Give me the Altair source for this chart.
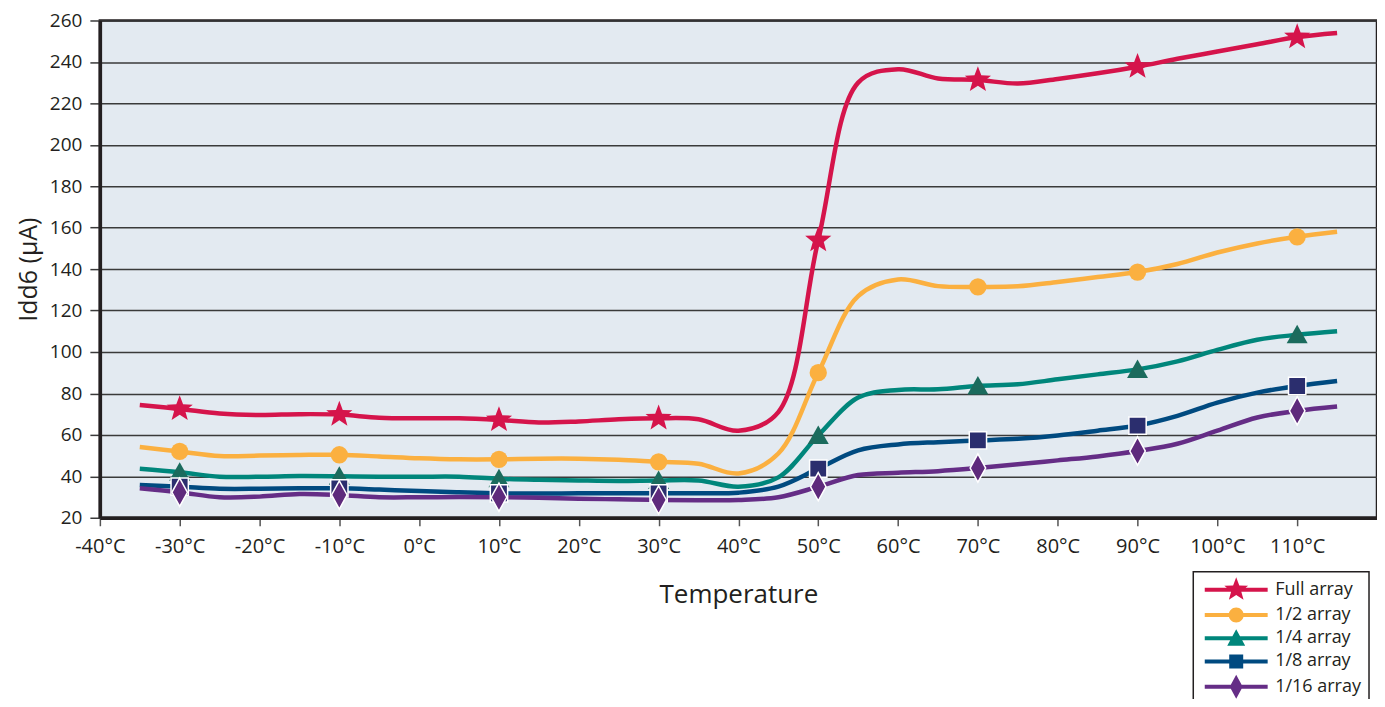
import altair as alt
import pandas as pd

temps = list(range(-35, 120, 5))

full_array = [74.4, 72.5, 70.3, 69.6, 70.0, 69.8, 68.3, 68.0, 68.0, 67.2, 66.0, 66.5, 67.5, 68.0, 67.5,
              62.0, 71.0, 154.0, 230.0, 236.5, 232.0, 231.3, 229.6, 231.8, 234.5, 237.7, 241.5, 245.0,
              248.5, 252.0, 254.0]
half_array = [54.1, 52.0, 49.8, 50.0, 50.3, 50.4, 49.6, 48.7, 48.2, 48.2, 48.5, 48.5, 48.0, 47.0, 46.1,
              41.4, 51.0, 90.0, 127.0, 135.0, 131.8, 131.4, 131.7, 133.8, 136.2, 138.6, 142.5, 148.0,
              152.4, 155.6, 158.0]
quarter_array = [43.7, 42.0, 39.8, 39.8, 40.1, 40.0, 39.8, 39.8, 39.8, 38.8, 38.3, 38.0, 37.8, 38.0, 38.0,
                 35.0, 39.5, 59.7, 78.0, 81.7, 82.0, 83.6, 84.4, 86.8, 89.2, 91.6, 95.5, 101.0,
                 105.9, 108.3, 110.0]
eighth_array = [35.8, 35.0, 34.0, 34.0, 34.2, 34.2, 33.6, 32.9, 32.3, 31.8, 31.7, 31.8, 31.8, 31.8, 31.8,
                32.1, 35.0, 43.7, 52.5, 55.4, 56.5, 57.3, 58.1, 59.7, 62.0, 64.5, 69.2, 75.6,
                80.4, 83.6, 86.0]
sixteenth_array = [34.2, 32.3, 29.9, 30.2, 31.5, 31.0, 29.9, 29.9, 30.0, 29.9, 29.6, 29.2, 28.9, 28.6, 28.5,
                   28.6, 29.9, 35.0, 40.6, 41.7, 42.5, 44.0, 45.8, 47.7, 49.6, 52.2, 55.7, 62.0,
                   68.4, 71.6, 73.7]

marker_temps = [-30, -10, 10, 30, 50, 70, 90, 110]
series_names = ["Full array", "1/2 array", "1/4 array", "1/8 array", "1/16 array"]
series_values = [full_array, half_array, quarter_array, eighth_array, sixteenth_array]
line_colors = ["#d5144b", "#fbb040", "#00867b", "#004a80", "#652d86"]
marker_colors = ["#d5144b", "#fbb040", "#1b6b5d", "#2b2e6e", "#5e2a7c"]
x_ticks = list(range(-40, 111, 10))
y_ticks = list(range(20, 261, 20))

FONT = "Open Sans"
TXT = "#231f20"

rows = []
for name, vals in zip(series_names, series_values):
    for t, v in zip(temps, vals):
        rows.append({"temp": t, "value": v, "series": name, "marker": t in marker_temps})
df = pd.DataFrame(rows)

# marker shapes (unit coordinates, scaled by sqrt(size)/2)
star = ("M0,-1 L0.247,-0.34 L0.951,-0.309 L0.399,0.13 L0.588,0.809 L0,0.42 "
        "L-0.588,0.809 L-0.399,0.13 L-0.951,-0.309 L-0.247,-0.34 Z")
tri = "M0,-1 L1.05,0.85 L-1.05,0.85 Z"
diamond = "M0,-1 L0.55,0 L0,1 L-0.55,0 Z"
marker_shapes = [star, "circle", tri, "square", diamond]
marker_sizes = [760, 300, 400, 300, 800]
marker_strokes = [None, None, None, "white", "white"]

# legend symbols: a line segment with the marker in its middle (size 400 -> 10 px per unit)
bar = "M-3.15,-0.2 H3.15 V0.2 H-3.15 Z "
legend_paths = [
    bar + "M0,-1.25 L0.309,-0.425 L1.189,-0.386 L0.499,0.163 L0.735,1.011 L0,0.525 "
          "L-0.735,1.011 L-0.499,0.163 L-1.189,-0.386 L-0.309,-0.425 Z",
    bar + "M0.75,0 A0.75,0.75 0 1,1 -0.75,0 A0.75,0.75 0 1,1 0.75,0 Z",
    bar + "M0,-0.9 L0.9,0.75 L-0.9,0.75 Z",
    bar + "M-0.7,-0.7 H0.7 V0.7 H-0.7 Z",
    bar + "M0,-1.2 L0.65,0 L0,1.2 L-0.65,0 Z",
]

x_enc = alt.X("temp:Q",
              scale=alt.Scale(domain=[-40, 120], nice=False, zero=False),
              axis=alt.Axis(values=x_ticks, labelExpr="datum.value + '°C'", title="Temperature",
                            grid=False, tickSize=8, labelPadding=11, titlePadding=25,
                            domainWidth=3.5, domainColor=TXT, tickColor="#555555", tickWidth=1.5,
                            labelFontSize=20, titleFontSize=26, labelFlush=False))
y_enc = alt.Y("value:Q",
              scale=alt.Scale(domain=[20, 260], nice=False, zero=False),
              axis=alt.Axis(values=y_ticks, title="Idd6 (μA)", grid=True, gridColor="#3a3a3a",
                            gridWidth=1.5, tickSize=10, tickColor="#3a3a3a", tickWidth=1.5,
                            labelPadding=8, titlePadding=8, domainWidth=3.5, domainColor=TXT,
                            labelFontSize=19, titleFontSize=25))

layers = []
for name, col in zip(series_names, line_colors):
    layers.append(
        alt.Chart(df).transform_filter(alt.datum.series == name)
        .mark_line(interpolate="catmull-rom", color=col, strokeWidth=4.5)
        .encode(x=x_enc, y=y_enc)
    )
for name, col, shp, sz, stk in zip(series_names, marker_colors, marker_shapes, marker_sizes, marker_strokes):
    kw = dict(shape=shp, filled=True, color=col, size=sz, opacity=1)
    if stk:
        kw.update(stroke=stk, strokeWidth=1.5)
    else:
        kw.update(strokeWidth=0)
    layers.append(
        alt.Chart(df).transform_filter((alt.datum.series == name) & alt.datum.marker)
        .mark_point(**kw)
        .encode(x=x_enc, y=y_enc)
    )

leg = alt.Legend(title=None, orient="none", legendX=1095, legendY=552, padding=8,
                 fillColor="white", strokeColor=TXT, symbolSize=400, symbolStrokeWidth=0,
                 symbolOpacity=1, symbolOffset=25, labelFontSize=18, labelOffset=29, rowPadding=4.3,
                 labelColor=TXT, labelFont=FONT)
layers.append(
    alt.Chart(df).transform_filter("false")
    .mark_point(filled=True, opacity=1)
    .encode(x=x_enc, y=y_enc,
            color=alt.Color("series:N", scale=alt.Scale(domain=series_names, range=line_colors), legend=leg),
            shape=alt.Shape("series:N", scale=alt.Scale(domain=series_names, range=legend_paths), legend=leg))
)

chart = (
    alt.layer(*layers)
    .properties(width=1279, height=498, autosize="none",
                padding={"left": 92, "top": 12, "right": 0, "bottom": 181})
    .configure_view(fill="#e3eaf1", stroke=TXT, strokeWidth=2.5)
    .configure_axis(labelFont=FONT, titleFont=FONT, labelColor=TXT, titleColor=TXT,
                    titleFontWeight="normal")
    .configure_legend(strokeWidth=1.5)
)

chart.save("out.html", embed_options={"renderer": "svg", "actions": False})
